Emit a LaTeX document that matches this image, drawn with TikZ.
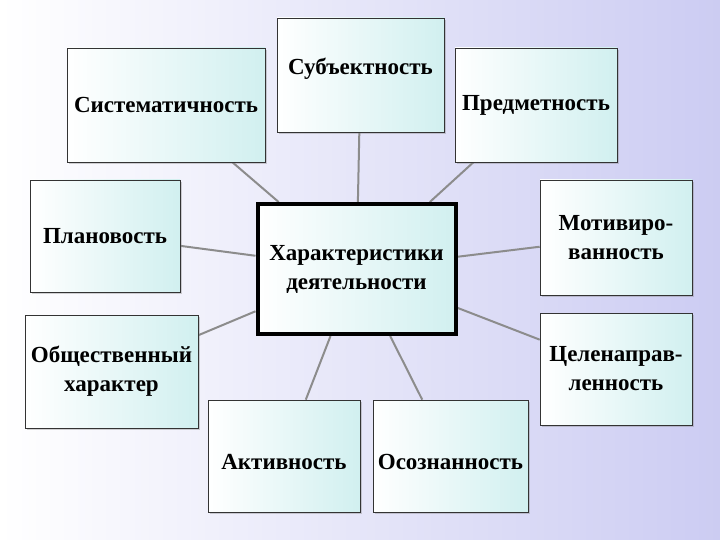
\documentclass[tikz,border=0pt]{standalone}
\usepackage{fontspec}
\setmainfont{Liberation Serif}
\usetikzlibrary{shadows}
\pgfdeclarelayer{back}
\pgfdeclarelayer{bg}
\pgfsetlayers{back,bg,main}
\begin{document}
\begin{tikzpicture}[x=1pt,y=-1pt,
  box/.style={draw=black!80,line width=0.6pt,left color=white,right color={rgb,1:red,0.82;green,0.94;blue,0.94},
    drop shadow={opacity=0.35,shadow xshift=2pt,shadow yshift=-2pt},
    inner sep=0pt,align=center,font=\fontsize{23}{29}\selectfont\bfseries},
  link/.style={draw=black!45,line width=2pt}]
\begin{pgfonlayer}{back}
\shade[left color=white,right color={rgb,1:red,0.8;green,0.8;blue,0.95}] (0,0) rectangle (720,540);
\end{pgfonlayer}
\useasboundingbox (0,0) rectangle (720,540);
\node[box,minimum width=198pt,minimum height=114pt] (sys) at (166,105) {Систематичность};
\node[box,minimum width=167pt,minimum height=114pt,text depth=18pt] (sub) at (360.5,75) {Субъектность};
\node[box,minimum width=162pt,minimum height=114pt] (pre) at (536,105) {Предметность};
\node[box,minimum width=150pt,minimum height=112pt] (pla) at (105,236) {Плановость};
\node[box,minimum width=152pt,minimum height=115pt] (mot) at (616,237.5) {Мотивиро-\\ванность};
\node[box,minimum width=173pt,minimum height=113pt] (obs) at (111.5,371.5) {Общественный\\характер};
\node[box,minimum width=152pt,minimum height=112pt] (cel) at (616,369) {Целенаправ-\\ленность};
\node[box,minimum width=152pt,minimum height=112pt,text height=28pt] (akt) at (284,456) {Активность};
\node[box,minimum width=155pt,minimum height=112pt,text height=28pt] (oso) at (450.5,456) {Осознанность};
\node[box,line width=4pt,draw=black,minimum width=198pt,minimum height=130pt] (c) at (356.5,269) {Характеристики\\деятельности};
\begin{pgfonlayer}{bg}
\foreach \n in {sys,sub,pre,pla,mot,obs,cel,akt,oso} \draw[link] (c) -- (\n);
\end{pgfonlayer}
\end{tikzpicture}
\end{document}
